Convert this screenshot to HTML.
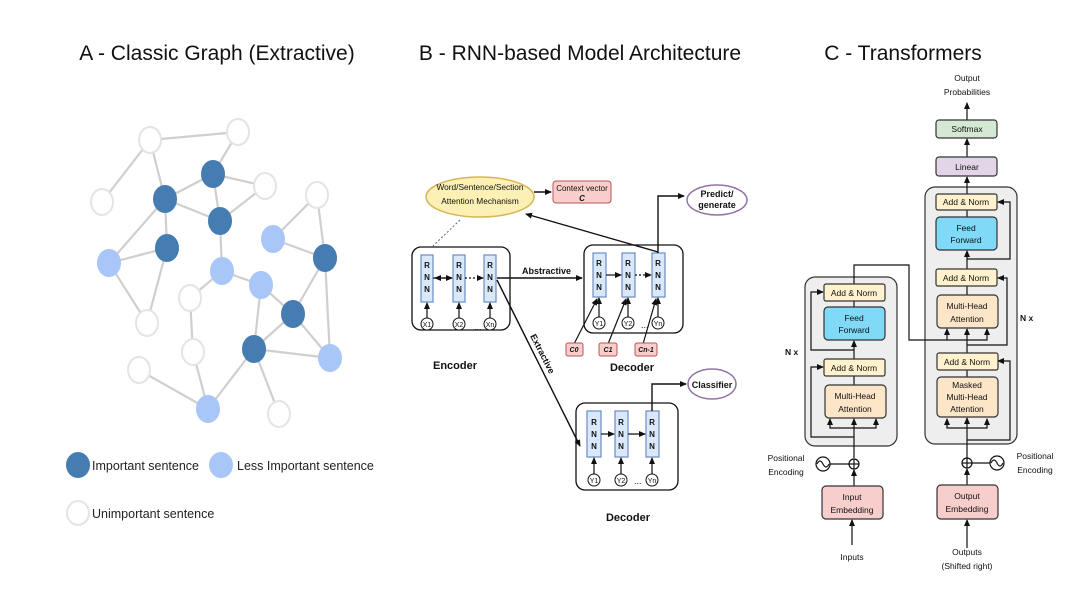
<!DOCTYPE html>
<html><head><meta charset="utf-8"><style>
html,body{margin:0;padding:0;background:#fff}
svg{display:block;font-family:"Liberation Sans",sans-serif}
</style></head><body>
<svg width="1080" height="608" viewBox="0 0 1080 608" xmlns="http://www.w3.org/2000/svg">
<defs>
<marker id="a" markerWidth="8" markerHeight="8" refX="6" refY="3" orient="auto" markerUnits="userSpaceOnUse"><path d="M0,0 L7,3 L0,6 z" fill="#111"/></marker>
</defs>
<text x="217" y="60" font-size="21" text-anchor="middle" fill="#111">A - Classic Graph (Extractive)</text>
<text x="580" y="60" font-size="21" text-anchor="middle" fill="#111">B - RNN-based Model Architecture</text>
<text x="903" y="60" font-size="21" text-anchor="middle" fill="#111">C - Transformers</text>

<g stroke="#cfcfcf" stroke-width="2.2">
<line x1="150" y1="140" x2="238" y2="132"/><line x1="150" y1="140" x2="102" y2="202"/><line x1="150" y1="140" x2="165" y2="199"/>
<line x1="238" y1="132" x2="213" y2="174"/><line x1="165" y1="199" x2="213" y2="174"/><line x1="213" y1="174" x2="265" y2="186"/>
<line x1="213" y1="174" x2="220" y2="221"/><line x1="165" y1="199" x2="220" y2="221"/><line x1="265" y1="186" x2="220" y2="221"/>
<line x1="165" y1="199" x2="167" y2="248"/><line x1="165" y1="199" x2="109" y2="263"/><line x1="167" y1="248" x2="109" y2="263"/>
<line x1="167" y1="248" x2="147" y2="323"/><line x1="109" y1="263" x2="147" y2="323"/><line x1="220" y1="221" x2="222" y2="271"/>
<line x1="222" y1="271" x2="190" y2="298"/><line x1="222" y1="271" x2="261" y2="285"/><line x1="190" y1="298" x2="193" y2="352"/>
<line x1="193" y1="352" x2="208" y2="409"/><line x1="139" y1="370" x2="208" y2="409"/><line x1="208" y1="409" x2="254" y2="349"/>
<line x1="261" y1="285" x2="254" y2="349"/><line x1="261" y1="285" x2="293" y2="314"/><line x1="317" y1="195" x2="273" y2="239"/>
<line x1="273" y1="239" x2="325" y2="258"/><line x1="317" y1="195" x2="325" y2="258"/><line x1="325" y1="258" x2="293" y2="314"/>
<line x1="325" y1="258" x2="330" y2="358"/><line x1="293" y1="314" x2="254" y2="349"/><line x1="293" y1="314" x2="330" y2="358"/>
<line x1="254" y1="349" x2="330" y2="358"/><line x1="254" y1="349" x2="279" y2="414"/>
</g>
<g stroke-width="2">
<g fill="#fff" stroke="#e4e4e4">
<ellipse cx="150" cy="140" rx="11" ry="13"/><ellipse cx="238" cy="132" rx="11" ry="13"/><ellipse cx="102" cy="202" rx="11" ry="13"/>
<ellipse cx="265" cy="186" rx="11" ry="13"/><ellipse cx="317" cy="195" rx="11" ry="13"/><ellipse cx="190" cy="298" rx="11" ry="13"/>
<ellipse cx="147" cy="323" rx="11" ry="13"/><ellipse cx="193" cy="352" rx="11" ry="13"/><ellipse cx="139" cy="370" rx="11" ry="13"/>
<ellipse cx="279" cy="414" rx="11" ry="13"/>
</g>
<g fill="#457db2" stroke="#457db2">
<ellipse cx="165" cy="199" rx="11" ry="13"/><ellipse cx="213" cy="174" rx="11" ry="13"/><ellipse cx="220" cy="221" rx="11" ry="13"/>
<ellipse cx="167" cy="248" rx="11" ry="13"/><ellipse cx="325" cy="258" rx="11" ry="13"/><ellipse cx="293" cy="314" rx="11" ry="13"/>
<ellipse cx="254" cy="349" rx="11" ry="13"/>
</g>
<g fill="#a8c6f8" stroke="#a8c6f8">
<ellipse cx="273" cy="239" rx="11" ry="13"/><ellipse cx="109" cy="263" rx="11" ry="13"/><ellipse cx="222" cy="271" rx="11" ry="13"/>
<ellipse cx="261" cy="285" rx="11" ry="13"/><ellipse cx="330" cy="358" rx="11" ry="13"/><ellipse cx="208" cy="409" rx="11" ry="13"/>
</g>
<ellipse cx="78" cy="465" rx="11" ry="12" fill="#457db2" stroke="#457db2"/>
<ellipse cx="221" cy="465" rx="11" ry="12" fill="#a8c6f8" stroke="#a8c6f8"/>
<ellipse cx="78" cy="513" rx="11" ry="12" fill="#fff" stroke="#e4e4e4"/>
</g>
<text x="92" y="470" font-size="12.5" fill="#222">Important sentence</text>
<text x="237" y="470" font-size="12.5" fill="#222">Less Important sentence</text>
<text x="92" y="518" font-size="12.5" fill="#222">Unimportant sentence</text>

<g font-size="9" fill="#111">
<ellipse cx="480" cy="197" rx="54" ry="20" fill="#fdf0b5" stroke="#d6b656" stroke-width="1.5"/>
<text x="480" y="190" text-anchor="middle" font-size="8.3">Word/Sentence/Section</text>
<text x="480" y="204" text-anchor="middle" font-size="8.3">Attention Mechanism</text>
<line x1="534" y1="192" x2="551" y2="192" stroke="#111" stroke-width="1.5" marker-end="url(#a)"/>
<rect x="553" y="181" width="58" height="22" rx="3" fill="#f8cecc" stroke="#b85450"/>
<text x="582" y="191" text-anchor="middle" font-size="8">Context vector</text>
<text x="582" y="201" text-anchor="middle" font-size="8" font-weight="bold" font-style="italic">C</text>
<ellipse cx="717" cy="200" rx="30" ry="15" fill="#fff" stroke="#9673a6" stroke-width="1.5"/>
<text x="717" y="197" text-anchor="middle" font-weight="bold">Predict/</text>
<text x="717" y="208" text-anchor="middle" font-weight="bold">generate</text>
<line x1="460" y1="220" x2="433" y2="246" stroke="#666" stroke-dasharray="2,2"/>

<rect x="412" y="247" width="98" height="83" rx="9" fill="#fff" stroke="#111" stroke-width="1.3"/>
<rect x="584" y="245" width="99" height="88" rx="9" fill="#fff" stroke="#111" stroke-width="1.3"/>
<rect x="576" y="403" width="102" height="87" rx="9" fill="#fff" stroke="#111" stroke-width="1.3"/>

<g fill="#dae8fc" stroke="#6c8ebf" stroke-width="1.2">
<rect x="421" y="255" width="12" height="47"/><rect x="453" y="255" width="12" height="47"/><rect x="484" y="255" width="12" height="47"/>
<rect x="593" y="253" width="13" height="44"/><rect x="622" y="253" width="13" height="44"/><rect x="652" y="253" width="13" height="44"/>
<rect x="587" y="411" width="14" height="46"/><rect x="615" y="411" width="13" height="46"/><rect x="646" y="411" width="13" height="46"/>
</g>
<g font-weight="bold" font-size="8" text-anchor="middle">
<text x="427" y="268">R</text><text x="427" y="280">N</text><text x="427" y="292">N</text>
<text x="459" y="268">R</text><text x="459" y="280">N</text><text x="459" y="292">N</text>
<text x="490" y="268">R</text><text x="490" y="280">N</text><text x="490" y="292">N</text>
<text x="599" y="266">R</text><text x="599" y="278">N</text><text x="599" y="290">N</text>
<text x="628" y="266">R</text><text x="628" y="278">N</text><text x="628" y="290">N</text>
<text x="658" y="266">R</text><text x="658" y="278">N</text><text x="658" y="290">N</text>
<text x="594" y="425">R</text><text x="594" y="437">N</text><text x="594" y="449">N</text>
<text x="621" y="425">R</text><text x="621" y="437">N</text><text x="621" y="449">N</text>
<text x="652" y="425">R</text><text x="652" y="437">N</text><text x="652" y="449">N</text>
</g>
<g stroke="#111" stroke-width="1.2" fill="none">
<line x1="433" y1="278" x2="452" y2="278" marker-end="url(#a)"/><line x1="452" y1="278" x2="435" y2="278" marker-end="url(#a)"/>
<line x1="465" y1="278" x2="483" y2="278" stroke-dasharray="2,2" marker-end="url(#a)"/>
<line x1="606" y1="275" x2="621" y2="275" marker-end="url(#a)"/>
<line x1="635" y1="275" x2="651" y2="275" stroke-dasharray="2,2" marker-end="url(#a)"/>
<line x1="601" y1="434" x2="614" y2="434" marker-end="url(#a)"/>
<line x1="628" y1="434" x2="645" y2="434" marker-end="url(#a)"/>
<line x1="427" y1="318" x2="427" y2="303" marker-end="url(#a)"/><line x1="459" y1="318" x2="459" y2="303" marker-end="url(#a)"/><line x1="490" y1="318" x2="490" y2="303" marker-end="url(#a)"/>
<line x1="599" y1="317" x2="599" y2="298" marker-end="url(#a)"/><line x1="628" y1="317" x2="628" y2="298" marker-end="url(#a)"/><line x1="658" y1="317" x2="658" y2="298" marker-end="url(#a)"/>
<line x1="594" y1="474" x2="594" y2="458" marker-end="url(#a)"/><line x1="621" y1="474" x2="621" y2="458" marker-end="url(#a)"/><line x1="652" y1="474" x2="652" y2="458" marker-end="url(#a)"/>
<line x1="574" y1="344" x2="597" y2="299" marker-end="url(#a)"/><line x1="608" y1="344" x2="626" y2="299" marker-end="url(#a)"/><line x1="643" y1="344" x2="656" y2="299" marker-end="url(#a)"/>
<line x1="497" y1="278" x2="582" y2="278" stroke-width="1.4" marker-end="url(#a)"/>
<line x1="497" y1="280" x2="580" y2="446" stroke-width="1.4" marker-end="url(#a)"/>
<polyline points="658,253 658,196 684,196" stroke-width="1.4" marker-end="url(#a)"/>
<line x1="658" y1="252" x2="526" y2="214" stroke-width="1.4" marker-end="url(#a)"/>
<polyline points="652,411 652,384 686,384" stroke-width="1.4" marker-end="url(#a)"/>
</g>
<g fill="#fff" stroke="#111" stroke-width="1">
<circle cx="427" cy="324" r="6"/><circle cx="459" cy="324" r="6"/><circle cx="490" cy="324" r="6"/>
<circle cx="599" cy="323" r="6"/><circle cx="628" cy="323" r="6"/><circle cx="658" cy="323" r="6"/>
<circle cx="594" cy="480" r="6"/><circle cx="621" cy="480" r="6"/><circle cx="652" cy="480" r="6"/>
</g>
<g font-size="7" text-anchor="middle">
<text x="427" y="327">X1</text><text x="459" y="327">X2</text><text x="490" y="327">Xn</text>
<text x="599" y="326">Y1</text><text x="628" y="326">Y2</text><text x="658" y="326">Yn</text>
<text x="594" y="483">Y1</text><text x="621" y="483">Y2</text><text x="652" y="483">Yn</text>
</g>
<text x="474" y="330">...</text><text x="641" y="328">...</text><text x="634" y="484">...</text>
<g fill="#f8cecc" stroke="#b85450">
<rect x="566" y="343" width="17" height="13" rx="2"/><rect x="599" y="343" width="18" height="13" rx="2"/><rect x="635" y="343" width="22" height="13" rx="2"/>
</g>
<g font-size="7" font-weight="bold" font-style="italic" text-anchor="middle">
<text x="574" y="352">C0</text><text x="608" y="352">C1</text><text x="646" y="352">Cn-1</text>
</g>
<text x="522" y="274" font-weight="bold">Abstractive</text>
<text transform="translate(530,336) rotate(63)" font-weight="bold">Extractive</text>
<text x="455" y="369" font-size="11" font-weight="bold" text-anchor="middle">Encoder</text>
<text x="632" y="371" font-size="11" font-weight="bold" text-anchor="middle">Decoder</text>
<text x="628" y="521" font-size="11" font-weight="bold" text-anchor="middle">Decoder</text>
<ellipse cx="712" cy="384" rx="24" ry="15" fill="#fff" stroke="#9673a6" stroke-width="1.5"/>
<text x="712" y="388" text-anchor="middle" font-weight="bold">Classifier</text>
</g>

<g font-size="8.5" fill="#111" stroke-width="1.2">
<rect x="925" y="187" width="92" height="257" rx="10" fill="#eee" stroke="#333"/>
<rect x="805" y="277" width="92" height="169" rx="10" fill="#eee" stroke="#333"/>
<g stroke="#111" fill="none" stroke-width="1.2">
<line x1="967" y1="120" x2="967" y2="103" marker-end="url(#a)"/>
<line x1="967" y1="157" x2="967" y2="139" marker-end="url(#a)"/>
<line x1="967" y1="194" x2="967" y2="177" marker-end="url(#a)"/>
<line x1="967" y1="217" x2="967" y2="210"/>
<line x1="967" y1="269" x2="967" y2="251" marker-end="url(#a)"/>
<line x1="967" y1="295" x2="967" y2="286"/>
<line x1="967" y1="353" x2="967" y2="340"/>
<line x1="967" y1="377" x2="967" y2="370"/>
<polyline points="967,259 1010,259 1010,202 998,202" marker-end="url(#a)"/>
<polyline points="967,345 1007,345 1007,278 998,278" marker-end="url(#a)"/>
<polyline points="967,440 1010,440 1010,361 998,361" marker-end="url(#a)"/>
<line x1="967" y1="485" x2="967" y2="469" marker-end="url(#a)"/>
<line x1="967" y1="458" x2="967" y2="418" marker-end="url(#a)"/>
<polyline points="967,428 947,428 947,419" marker-end="url(#a)"/>
<polyline points="967,428 987,428 987,419" marker-end="url(#a)"/>
<line x1="967" y1="548" x2="967" y2="520" marker-end="url(#a)"/>
<line x1="990" y1="463" x2="972" y2="463"/>
<polyline points="854,284 854,265 909,265 909,340 947,340"/>
<line x1="947" y1="340" x2="947" y2="329" marker-end="url(#a)"/>
<line x1="967" y1="340" x2="967" y2="329" marker-end="url(#a)"/>
<polyline points="947,340 987,340 987,329" marker-end="url(#a)"/>
<line x1="854" y1="307" x2="854" y2="301"/>
<line x1="854" y1="359" x2="854" y2="341" marker-end="url(#a)"/>
<line x1="854" y1="385" x2="854" y2="376"/>
<polyline points="854,350 811,350 811,292 823,292" marker-end="url(#a)"/>
<polyline points="854,437 811,437 811,367 823,367" marker-end="url(#a)"/>
<line x1="854" y1="458" x2="854" y2="419" marker-end="url(#a)"/>
<polyline points="854,428 830,428 830,419" marker-end="url(#a)"/>
<polyline points="854,428 876,428 876,419" marker-end="url(#a)"/>
<line x1="854" y1="486" x2="854" y2="470" marker-end="url(#a)"/>
<line x1="852" y1="545" x2="852" y2="520" marker-end="url(#a)"/>
<line x1="830" y1="464" x2="849" y2="464"/>
</g>
<rect x="936" y="120" width="61" height="18" rx="3" fill="#d5e8d4" stroke="#333"/>
<text x="967" y="132" text-anchor="middle">Softmax</text>
<rect x="936" y="157" width="61" height="19" rx="3" fill="#e1d5e7" stroke="#333"/>
<text x="967" y="170" text-anchor="middle">Linear</text>
<g fill="#fff2cc" stroke="#333">
<rect x="936" y="194" width="61" height="16" rx="2"/><rect x="936" y="269" width="61" height="17" rx="2"/><rect x="937" y="353" width="61" height="17" rx="2"/>
<rect x="824" y="284" width="61" height="17" rx="2"/><rect x="824" y="359" width="61" height="17" rx="2"/>
</g>
<g fill="#7fd9f7" stroke="#333">
<rect x="936" y="217" width="61" height="33" rx="4"/><rect x="824" y="307" width="61" height="33" rx="4"/>
</g>
<g fill="#fde5c8" stroke="#333">
<rect x="937" y="295" width="61" height="33" rx="4"/><rect x="937" y="377" width="61" height="40" rx="4"/><rect x="825" y="385" width="61" height="33" rx="4"/>
</g>
<g fill="#f8cecc" stroke="#333">
<rect x="822" y="486" width="61" height="33" rx="4"/><rect x="937" y="485" width="61" height="34" rx="4"/>
</g>
<g text-anchor="middle">
<text x="967" y="81">Output</text><text x="967" y="95">Probabilities</text>
<text x="966" y="205">Add &amp; Norm</text>
<text x="966" y="231">Feed</text><text x="966" y="243">Forward</text>
<text x="966" y="281">Add &amp; Norm</text>
<text x="967" y="309">Multi-Head</text><text x="967" y="322">Attention</text>
<text x="967" y="365">Add &amp; Norm</text>
<text x="967" y="388">Masked</text><text x="967" y="400">Multi-Head</text><text x="967" y="412">Attention</text>
<text x="854" y="296">Add &amp; Norm</text>
<text x="854" y="321">Feed</text><text x="854" y="333">Forward</text>
<text x="854" y="371">Add &amp; Norm</text>
<text x="855" y="399">Multi-Head</text><text x="855" y="412">Attention</text>
<text x="852" y="500">Input</text><text x="852" y="513">Embedding</text>
<text x="967" y="499">Output</text><text x="967" y="512">Embedding</text>
<text x="852" y="560">Inputs</text>
<text x="967" y="555">Outputs</text><text x="967" y="569">(Shifted right)</text>
<text x="786" y="461">Positional</text><text x="786" y="475">Encoding</text>
<text x="1035" y="459">Positional</text><text x="1035" y="473">Encoding</text>
</g>
<text x="1020" y="321" font-weight="bold">N x</text>
<text x="785" y="355" font-weight="bold">N x</text>
<g fill="#fff" stroke="#111">
<circle cx="854" cy="464" r="5"/><circle cx="967" cy="463" r="5"/>
<circle cx="823" cy="464" r="7"/><circle cx="997" cy="463" r="7"/>
</g>
<g stroke="#111" fill="none">
<line x1="849" y1="464" x2="859" y2="464"/><line x1="854" y1="459" x2="854" y2="469"/>
<line x1="962" y1="463" x2="972" y2="463"/><line x1="967" y1="458" x2="967" y2="468"/>
<path d="M817,464 q3,-6 6,0 t6,0"/><path d="M991,463 q3,-6 6,0 t6,0"/>
</g>
</g>
</svg>
</body></html>
